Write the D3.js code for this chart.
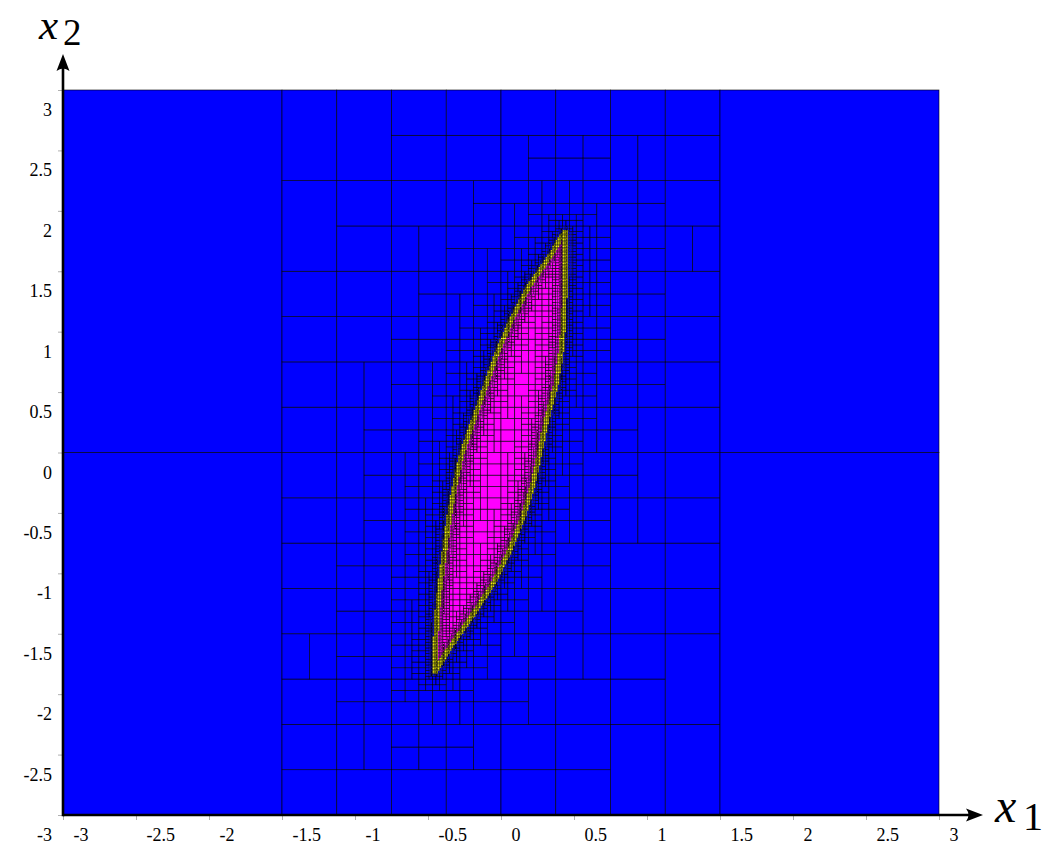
<!DOCTYPE html>
<html>
<head>
<meta charset="utf-8">
<script src="https://cdn.jsdelivr.net/npm/d3@7"></script>
<style>
  html, body { margin: 0; padding: 0; background: #ffffff; }
  svg { display: block; }
</style>
</head>
<body>
<script>
// ---------------- data ----------------
const xDomain = [-3, 3];
const yDomain = [-3, 3];
const xTicks = [-3, -2.5, -2, -1.5, -1, -0.5, 0, 0.5, 1, 1.5, 2, 2.5, 3];
const yTicks = [-3, -2.5, -2, -1.5, -1, -0.5, 0, 0.5, 1, 1.5, 2, 2.5, 3];
const xAxisTitle = ["x", "1"];
const yAxisTitle = ["x", "2"];

// lens-shaped set boundary (x1, x2), clockwise from the top tip
const lensBoundary = [
  [0.44, 1.825], [0.441, 1.649], [0.437, 1.372], [0.43, 1.097], [0.41, 0.821],
  [0.373, 0.545], [0.311, 0.269], [0.266, 0.004], [0.22, -0.255], [0.151, -0.531],
  [0.06, -0.807], [-0.054, -1.083], [-0.203, -1.359], [-0.36, -1.63], [-0.453, -1.815],
  [-0.451, -1.635], [-0.439, -1.359], [-0.416, -1.083], [-0.386, -0.807], [-0.355, -0.531],
  [-0.314, -0.255], [-0.268, -0.007], [-0.188, 0.269], [-0.108, 0.545], [-0.028, 0.821],
  [0.07, 1.097], [0.189, 1.372], [0.349, 1.649], [0.408, 1.775]
];
// x1 range outside which the paving rejects boxes at once
const searchBandX1 = [-1.5, 1.5];
const initialBox = [[-3, 3], [-3, 3]];
const minBoxWidth = 0.015;
const pessimism = { outA: 2.5, inA: 3.0, quad: 3.0, finalA: 2.0 };
const classColors = { outside: "#0000ff", inside: "#ff00ff", boundary: "#ffff00" };

// ---------------- geometry ----------------
function segDist(px, py, ax, ay, bx, by) {
  const dx = bx - ax, dy = by - ay;
  let t = ((px - ax) * dx + (py - ay) * dy) / (dx * dx + dy * dy);
  t = Math.max(0, Math.min(1, t));
  const qx = ax + t * dx - px, qy = ay + t * dy - py;
  return Math.hypot(qx, qy);
}
function signedDist(px, py) {
  let dmin = Infinity, inside = false;
  const n = lensBoundary.length;
  for (let i = 0, j = n - 1; i < n; j = i++) {
    const [xi, yi] = lensBoundary[i], [xj, yj] = lensBoundary[j];
    dmin = Math.min(dmin, segDist(px, py, xi, yi, xj, yj));
    if ((yi > py) !== (yj > py) && px < (xj - xi) * (py - yi) / (yj - yi) + xi) inside = !inside;
  }
  return inside ? -dmin : dmin;
}

// ---------------- paving (set inversion by bisection) ----------------
function pave() {
  const result = [];
  const stack = [initialBox];
  while (stack.length) {
    const b = stack.pop();
    const [bx, by] = b;
    const wx = bx[1] - bx[0], wy = by[1] - by[0];
    if (bx[1] <= searchBandX1[0] || bx[0] >= searchBandX1[1]) {
      result.push({ b, type: "outside" }); continue;
    }
    const cx = (bx[0] + bx[1]) / 2, cy = (by[0] + by[1]) / 2;
    const h = 0.5 * Math.hypot(wx, wy);
    const d = signedDist(cx, cy);
    if (Math.max(wx, wy) < minBoxWidth) {
      const type = Math.abs(d) < pessimism.finalA * h ? "boundary" : (d > 0 ? "outside" : "inside");
      result.push({ b, type }); continue;
    }
    const tOut = pessimism.outA * h + pessimism.quad * h * h;
    const tIn = pessimism.inA * h + pessimism.quad * h * h;
    if (d > tOut) { result.push({ b, type: "outside" }); continue; }
    if (d < -tIn) { result.push({ b, type: "inside" }); continue; }
    if (wx >= wy) {
      const m = cx;
      stack.push([[m, bx[1]], by], [[bx[0], m], by]);
    } else {
      const m = cy;
      stack.push([bx, [m, by[1]]], [bx, [by[0], m]]);
    }
  }
  return result;
}
const boxes = pave();

// ---------------- drawing ----------------
const W = 1053, H = 846;
const x = d3.scaleLinear().domain(xDomain).range([63, 939]);
const y = d3.scaleLinear().domain(yDomain).range([815, 90]);

const svg = d3.select("body").append("svg").attr("width", W).attr("height", H);

const order = { outside: 0, inside: 1, boundary: 2 };
boxes.sort((a, b) => order[a.type] - order[b.type]);

svg.append("g").attr("class", "paving")
  .selectAll("rect").data(boxes).join("rect")
  .attr("x", d => x(d.b[0][0]))
  .attr("y", d => y(d.b[1][1]))
  .attr("width", d => x(d.b[0][1]) - x(d.b[0][0]))
  .attr("height", d => y(d.b[1][0]) - y(d.b[1][1]))
  .attr("fill", d => classColors[d.type])
  .attr("stroke", "#000")
  .attr("stroke-opacity", 0.85)
  .attr("stroke-width", d => (x(d.b[0][1]) - x(d.b[0][0]) < 3 ? 0.4 : 0.7));

// axes
const font = "'Liberation Serif', 'DejaVu Serif', serif";
const gx = svg.append("g").attr("transform", `translate(0,${y(yDomain[0])})`)
  .call(d3.axisBottom(x).tickValues(xTicks).tickSize(5).tickFormat(d => String(d)));
gx.select(".domain").remove();
gx.selectAll(".tick line").attr("stroke", "#b0b0b0");
gx.selectAll(".tick text").attr("x", 10).attr("y", 13).attr("text-anchor", "start")
  .attr("font-family", font).attr("font-size", 18).attr("fill", "#000");

const gy = svg.append("g").attr("transform", `translate(${x(xDomain[0])},0)`)
  .call(d3.axisLeft(y).tickValues(yTicks).tickSize(5).tickFormat(d => String(d)));
gy.select(".domain").remove();
gy.selectAll(".tick line").attr("stroke", "#b0b0b0");
gy.selectAll(".tick text").attr("x", -11).attr("y", 25.5).attr("dy", null)
  .attr("font-family", font).attr("font-size", 18).attr("fill", "#000");

// axis lines with arrows
const x0 = x(xDomain[0]), y0 = y(yDomain[0]);
svg.append("line").attr("x1", x0).attr("y1", y0).attr("x2", 975).attr("y2", y0)
  .attr("stroke", "#000").attr("stroke-width", 2.6);
svg.append("line").attr("x1", x0).attr("y1", y0 + 1.3).attr("x2", x0).attr("y2", 62)
  .attr("stroke", "#000").attr("stroke-width", 2.6);
svg.append("path")
  .attr("d", `M983,${y0} L966,${y0 - 6.5} Q971,${y0} 966,${y0 + 6.5} Z`)
  .attr("fill", "#000");
svg.append("path")
  .attr("d", `M${x0},54 L${x0 - 6.5},71 Q${x0},66 ${x0 + 6.5},71 Z`)
  .attr("fill", "#000");

// axis titles
const t1 = svg.append("text").attr("x", 995).attr("y", 822)
  .attr("font-family", font).attr("font-size", 48);
t1.append("tspan").attr("font-style", "italic").text(xAxisTitle[0]);
t1.append("tspan").attr("x", 1023).attr("y", 830).attr("font-size", 40).text(xAxisTitle[1]);

const t2 = svg.append("text").attr("x", 39).attr("y", 39)
  .attr("font-family", font).attr("font-size", 43);
t2.append("tspan").attr("font-style", "italic").text(yAxisTitle[0]);
t2.append("tspan").attr("x", 63).attr("y", 45).attr("font-size", 37).text(yAxisTitle[1]);
</script>
</body>
</html>
